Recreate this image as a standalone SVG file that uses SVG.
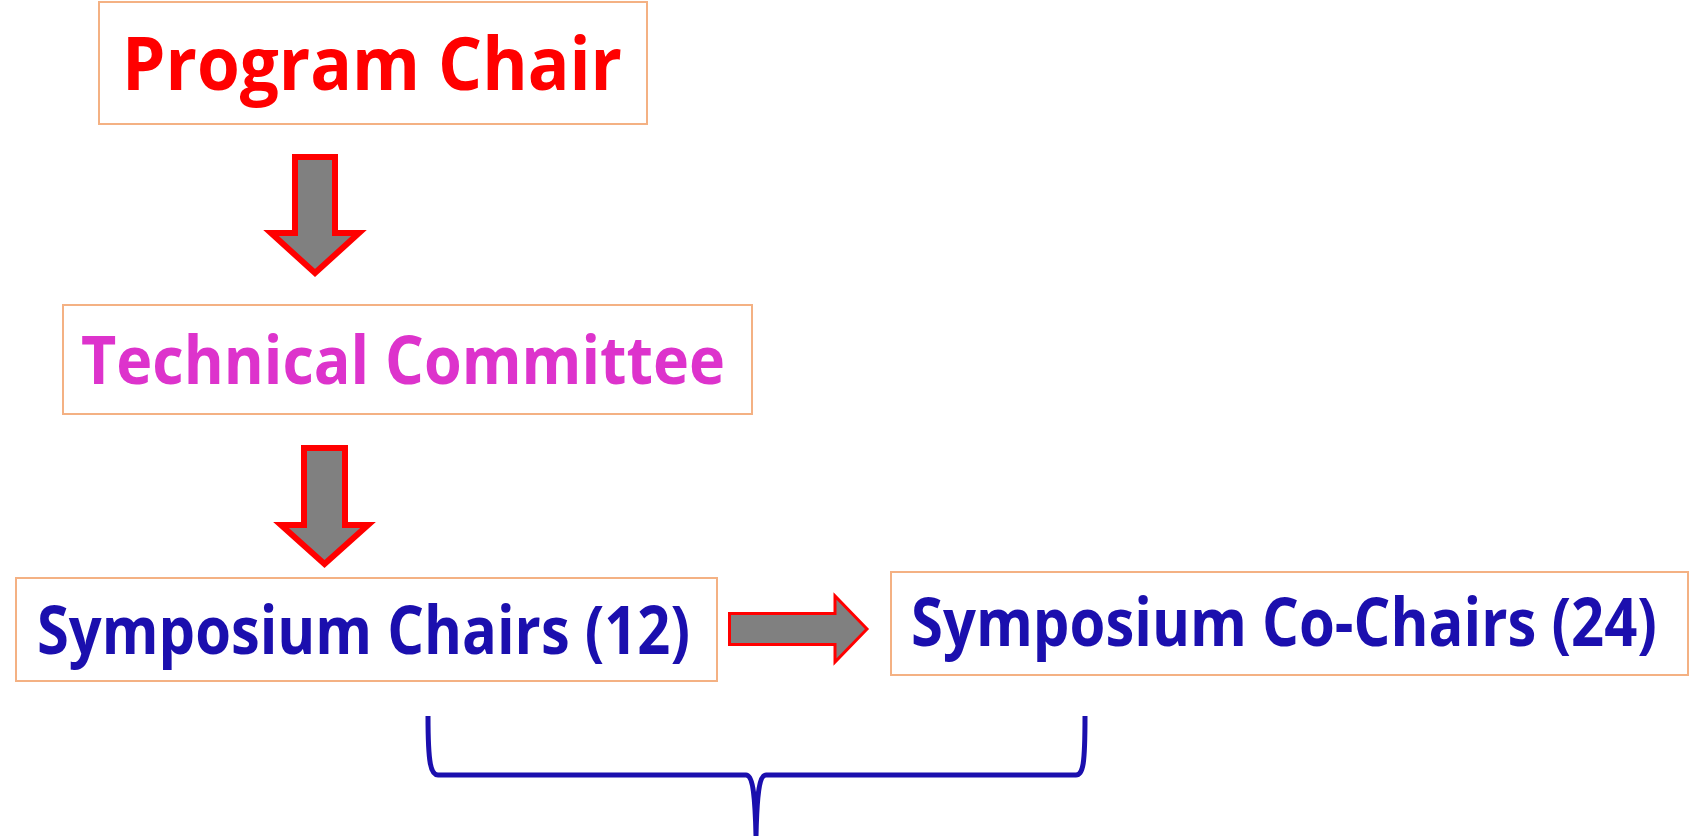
<svg xmlns="http://www.w3.org/2000/svg" width="1690" height="836" viewBox="0 0 1690 836">
<style>
.box{fill:#fff;stroke:#F4B183;stroke-width:2}
.t{font-family:"Open Sans","Liberation Sans",sans-serif;font-weight:bold}
.arr{fill:#808080;stroke:#FF0000;stroke-width:6;stroke-linejoin:miter;stroke-miterlimit:10}
</style>
<rect width="1690" height="836" fill="#fff"/>
<g id="program-chair">
<rect class="box" x="99" y="2" width="548" height="122"/>
<text class="t" x="122" y="90" font-size="74" fill="#FF0000" textLength="500" lengthAdjust="spacingAndGlyphs">Program Chair</text>
</g>
<g id="technical-committee">
<rect class="box" x="63" y="305" width="689" height="109"/>
<text class="t" x="81" y="384" font-size="66" fill="#DD33CC" textLength="644" lengthAdjust="spacingAndGlyphs">Technical Committee</text>
</g>
<g id="symposium-chairs">
<rect class="box" x="16" y="578" width="701" height="103"/>
<text class="t" x="37" y="654" font-size="66" fill="#1B0FAE" textLength="653" lengthAdjust="spacingAndGlyphs">Symposium Chairs (12)</text>
</g>
<g id="symposium-cochairs">
<rect class="box" x="891" y="572" width="797" height="103"/>
<text class="t" x="911" y="646" font-size="66" fill="#1B0FAE" textLength="746" lengthAdjust="spacingAndGlyphs">Symposium Co-Chairs (24)</text>
</g>
<g id="connectors">
<path class="arr" d="M295,157 L335,157 L335,233 L359,233 L315,273 L271,233 L295,233 Z"/>
<path class="arr" d="M304,448 L345,448 L345,525 L368,525 L324.5,564 L281,525 L304,525 Z"/>
<path class="arr" style="stroke-width:3" d="M729.5,613.5 L835,613.5 L835,596 L867,629 L835,662 L835,644.5 L729.5,644.5 Z"/>
<path id="brace" d="M428,716 C428,765 431,775 438,775 L746,775 C752,775 755,790 756,836 C757,790 760,775 766,775 L1076,775 C1083,775 1085,765 1085,716" fill="none" stroke="#1B0FAE" stroke-width="5"/>
</g>
</svg>
